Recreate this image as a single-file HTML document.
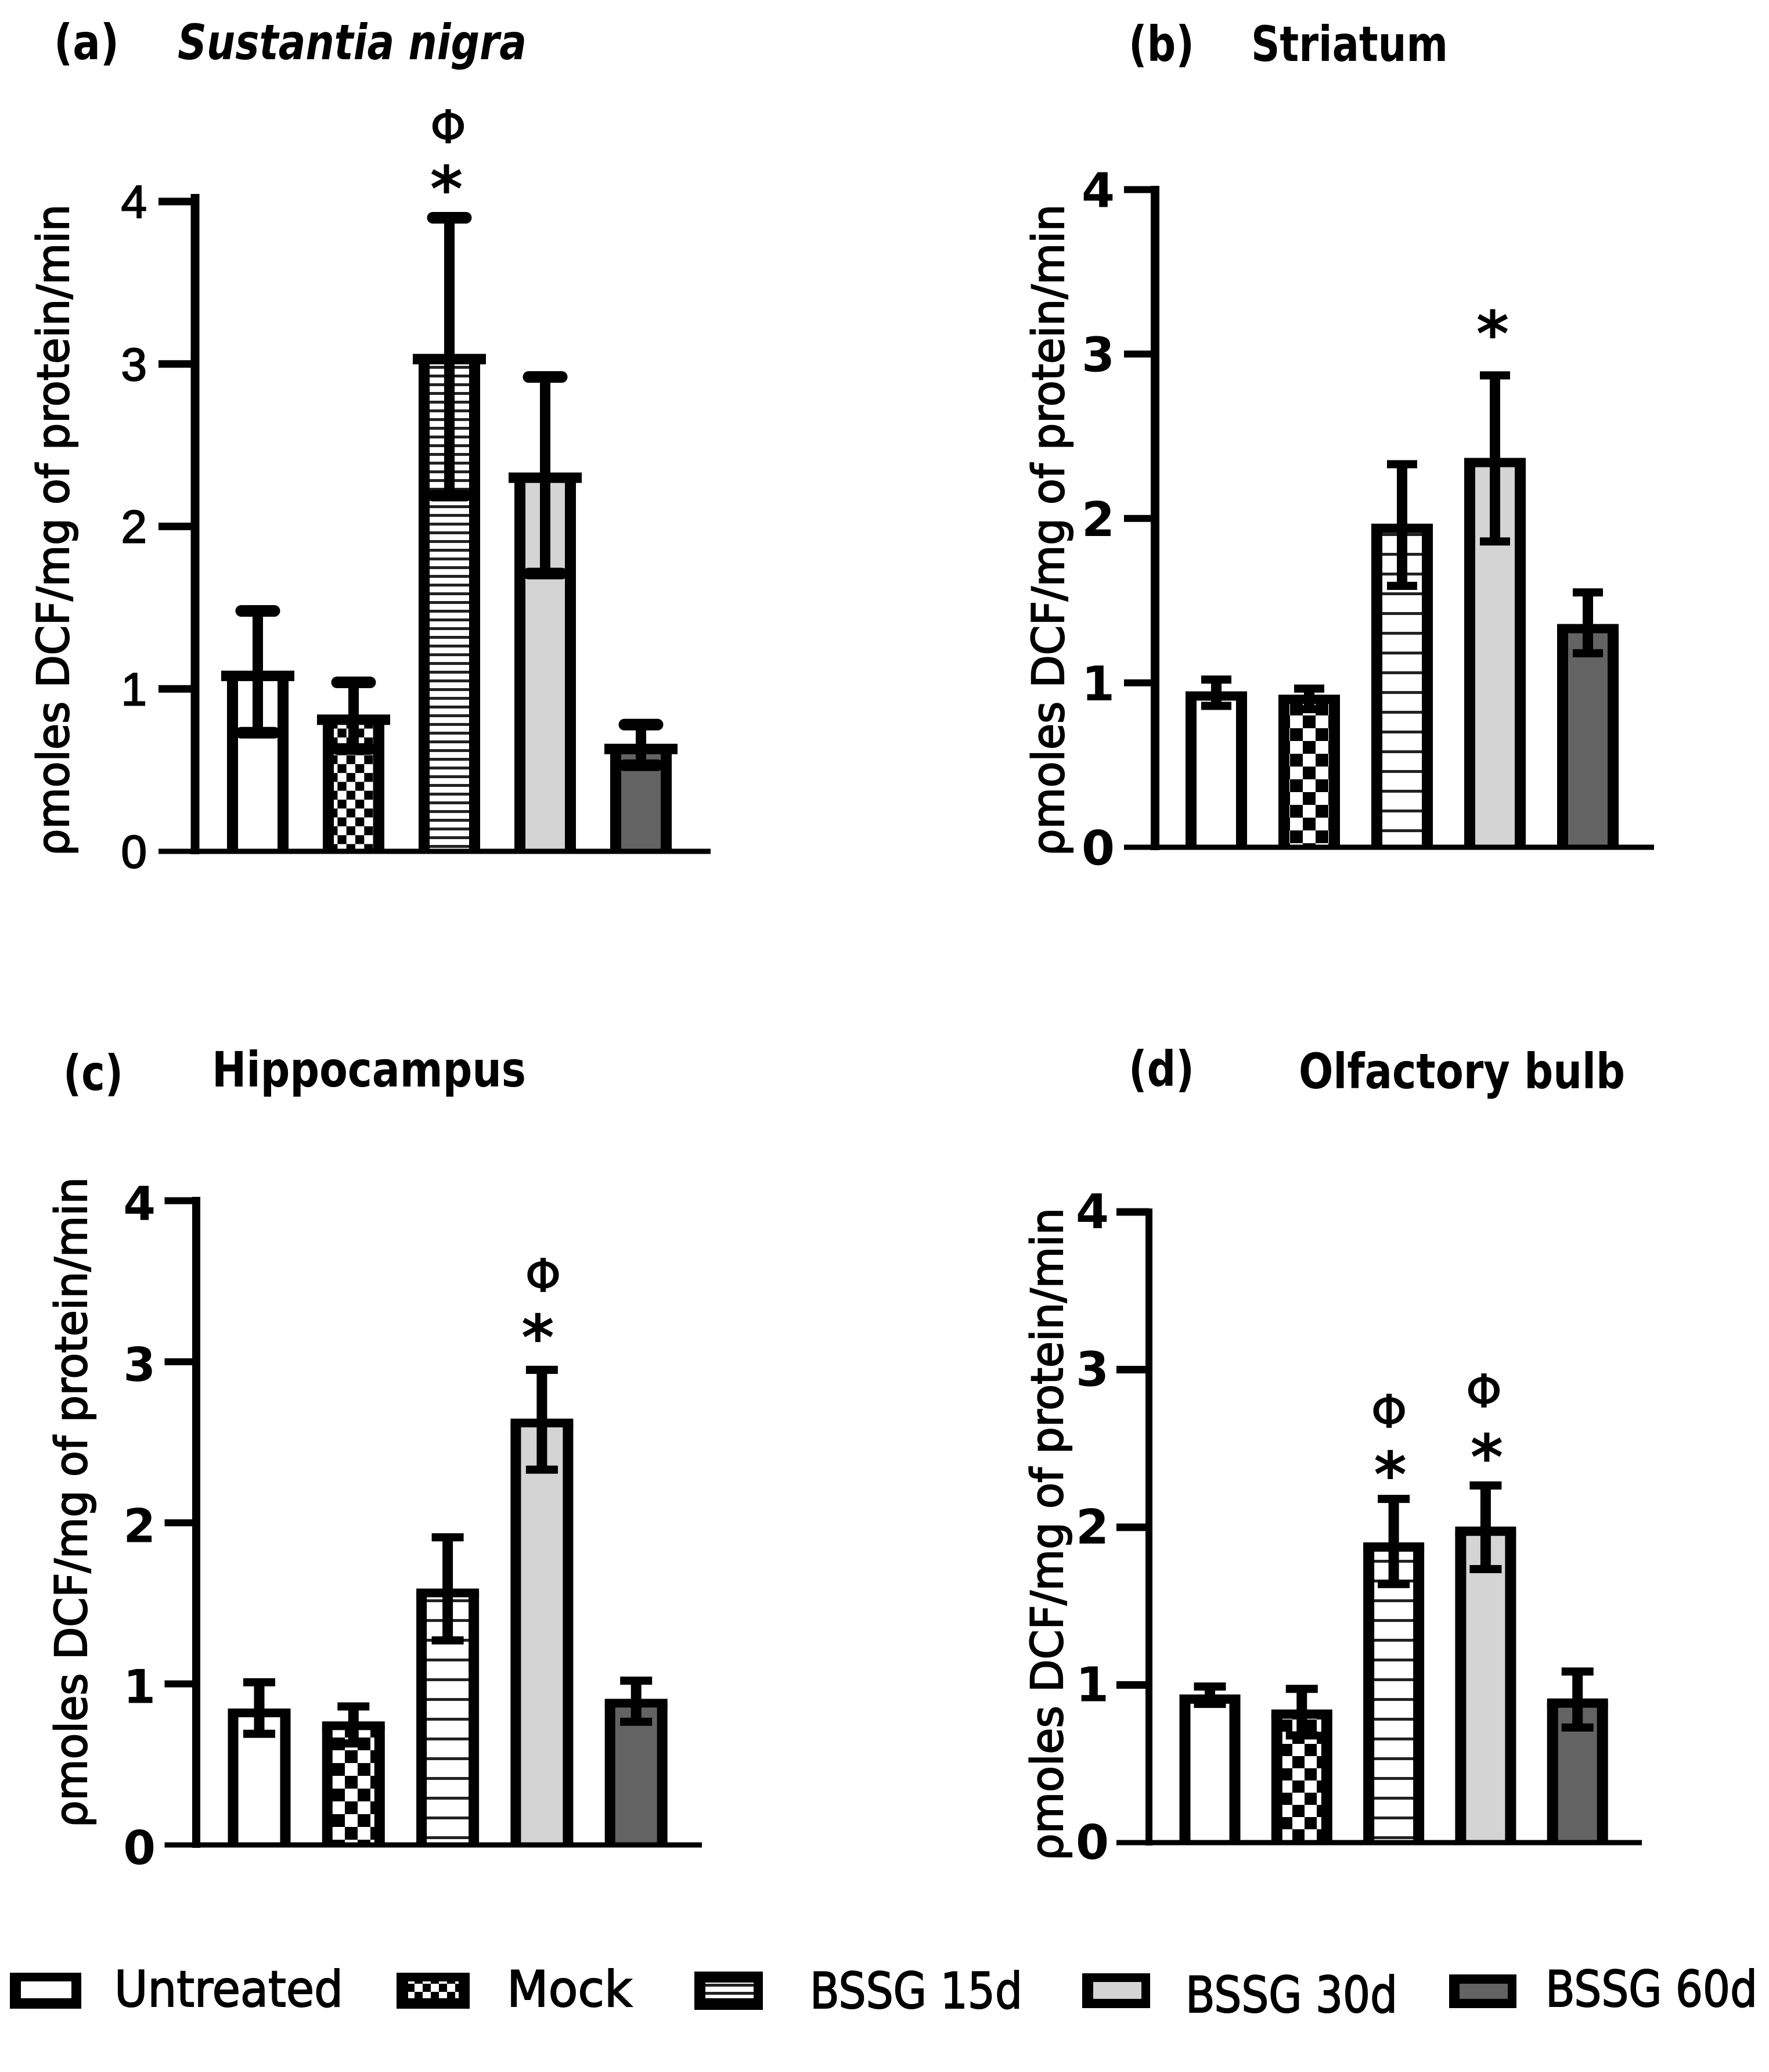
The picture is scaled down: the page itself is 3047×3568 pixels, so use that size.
<!DOCTYPE html>
<html><head><meta charset="utf-8"><title>DCF by brain region</title>
<style>
html,body{margin:0;padding:0;background:#fff}
svg{display:block}
text{font-family:"DejaVu Sans","Liberation Sans",sans-serif;fill:#000}
.ttl{font-weight:bold;font-size:84px}
.yt{font-size:76px;stroke:#000;stroke-width:2.2px}
.lg{font-size:86px;stroke:#000;stroke-width:2px}
</style></head><body>
<svg id="fig" xmlns="http://www.w3.org/2000/svg" width="3047" height="3568" viewBox="0 0 3047 3568">
<defs id="defs"></defs>
<rect width="3047" height="3568" fill="#fff"/>
<text class="ttl" x="93" y="102" textLength="112" lengthAdjust="spacingAndGlyphs">(a)</text>
<text class="ttl" x="306" y="102" font-style="italic" textLength="601" lengthAdjust="spacingAndGlyphs">Sustantia nigra</text>
<text class="ttl" x="1944" y="105" textLength="113" lengthAdjust="spacingAndGlyphs">(b)</text>
<text class="ttl" x="2155" y="105" textLength="339" lengthAdjust="spacingAndGlyphs">Striatum</text>
<text class="ttl" x="109" y="1877" textLength="103" lengthAdjust="spacingAndGlyphs">(c)</text>
<text class="ttl" x="365" y="1871" textLength="541" lengthAdjust="spacingAndGlyphs">Hippocampus</text>
<text class="ttl" x="1944" y="1870" textLength="113" lengthAdjust="spacingAndGlyphs">(d)</text>
<text class="ttl" x="2237" y="1874" textLength="562" lengthAdjust="spacingAndGlyphs">Olfactory bulb</text>
<g id="panels"></g>
<g id="legend"></g>
</svg>
<script>
// ---- chart data ----
const categories = ["Untreated", "Mock", "BSSG 15d", "BSSG 30d", "BSSG 60d"];
const yTickLabels = [0, 1, 2, 3, 4];
const panelAMeans = [1.08, 0.81, 3.03, 2.30, 0.63];
const panelAUpper = [1.48, 1.04, 3.90, 2.92, 0.78];
const panelALower = [0.73, 0.63, 2.19, 1.71, 0.53];
const panelBMeans = [0.92, 0.90, 1.94, 2.34, 1.33];
const panelBUpper = [1.02, 0.965, 2.33, 2.87, 1.55];
const panelBLower = [0.86, 0.84, 1.59, 1.86, 1.18];
const panelCMeans = [0.82, 0.74, 1.565, 2.62, 0.88];
const panelCUpper = [1.01, 0.86, 1.91, 2.95, 1.02];
const panelCLower = [0.69, 0.63, 1.27, 2.33, 0.765];
const panelDMeans = [0.91, 0.815, 1.875, 1.975, 0.885];
const panelDUpper = [0.99, 0.975, 2.18, 2.265, 1.085];
const panelDLower = [0.88, 0.68, 1.64, 1.735, 0.73];

const NS = "http://www.w3.org/2000/svg";
const GRAY = "#d4d4d4", DARK = "#636363";

function make(parent, tag, attrs, txt) {
  const el = document.createElementNS(NS, tag);
  for (const k in attrs) el.setAttribute(k, attrs[k]);
  if (txt !== undefined) el.textContent = txt;
  parent.appendChild(el);
  return el;
}

const defs = document.getElementById("defs");
function checkerPattern(id, c) {
  const p = make(defs, "pattern", {id: id, patternUnits: "userSpaceOnUse", width: 2 * c, height: 2 * c});
  make(p, "rect", {width: 2 * c, height: 2 * c, fill: "#fff"});
  make(p, "rect", {width: c, height: c, fill: "#000"});
  make(p, "rect", {x: c, y: c, width: c, height: c, fill: "#000"});
}
function hatchPattern(id, period, thick) {
  const p = make(defs, "pattern", {id: id, patternUnits: "userSpaceOnUse", width: 40, height: period});
  make(p, "rect", {width: 40, height: period, fill: "#fff"});
  make(p, "rect", {y: 0, width: 40, height: thick, fill: "#222"});
}
checkerPattern("chkA", 15.3);
checkerPattern("chkB", 22);
checkerPattern("chkC", 22);
checkerPattern("chkD", 21);
checkerPattern("chkL", 14);
hatchPattern("hatA", 15, 5);
hatchPattern("hatB", 34, 5);
hatchPattern("hatC", 34, 5);
hatchPattern("hatD", 34, 5);
hatchPattern("hatL", 14, 5);

const panels = [
 {key: "a", means: panelAMeans, upper: panelAUpper, lower: panelALower,
  axisX: 336, axisW: 15, tickLeft: 273, tickW: 13, axisTop: 334, right: 1224, y0: 1466, y4: 347, first: 444, step: 165,
  barW: 87, sw: 19, topSw: 18, overhang: 10, capW: 77, capH: 20, stem: 18, roundCaps: true, chk: "chkA", hat: "hatA",
  tickFs: 80, tickWeight: "normal", tickStroke: 2, tickFont: "Liberation Sans", tickRight: 253, tickDy: 28,
  titleX: 118, titleBottom: 1474, titleLen: 1122,
  notes: [{bar: 2, sym: "\u03A6", dx: -2, dy: -129}, {bar: 2, sym: "*", dx: -5, dy: -12}]},
 {key: "b", means: panelBMeans, upper: panelBUpper, lower: panelBLower,
  axisX: 1989.5, axisW: 15, tickLeft: 1936, tickW: 12, axisTop: 320, right: 2849, y0: 1459, y4: 326.5, first: 2095, step: 160,
  barW: 87, sw: 19, topSw: 16, overhang: 0, capW: 52, capH: 14, stem: 18, roundCaps: false, chk: "chkB", hat: "hatB",
  tickFs: 82, tickWeight: "bold", tickStroke: 0, tickFont: "DejaVu Sans", tickRight: 1920, tickDy: 30,
  titleX: 1832, titleBottom: 1474, titleLen: 1122,
  notes: [{bar: 3, sym: "*", dx: -4, dy: -34}]},
 {key: "c", means: panelCMeans, upper: panelCUpper, lower: panelCLower,
  axisX: 338, axisW: 14, tickLeft: 283.5, tickW: 12, axisTop: 2061, right: 1209, y0: 3177, y4: 2067.6, first: 446.5, step: 162.3,
  barW: 90, sw: 18, topSw: 15, overhang: 0, capW: 55, capH: 14, stem: 18, roundCaps: false, chk: "chkC", hat: "hatC",
  tickFs: 80, tickWeight: "bold", tickStroke: 0, tickFont: "DejaVu Sans", tickRight: 268, tickDy: 33,
  titleX: 149, titleBottom: 3147, titleLen: 1120,
  notes: [{bar: 3, sym: "\u03A6", dx: 2, dy: -135}, {bar: 3, sym: "*", dx: -7, dy: -18}]},
 {key: "d", means: panelDMeans, upper: panelDUpper, lower: panelDLower,
  axisX: 1979, axisW: 12, tickLeft: 1923, tickW: 13, axisTop: 2081, right: 2828, y0: 3173, y4: 2087, first: 2084, step: 158.3,
  barW: 86, sw: 19, topSw: 16, overhang: 0, capW: 55, capH: 14, stem: 18, roundCaps: false, chk: "chkD", hat: "hatD",
  tickFs: 82, tickWeight: "bold", tickStroke: 0, tickFont: "DejaVu Sans", tickRight: 1910, tickDy: 28,
  titleX: 1830, titleBottom: 3204, titleLen: 1124,
  notes: [{bar: 2, sym: "\u03A6", dx: -8, dy: -123}, {bar: 2, sym: "*", dx: -6, dy: -4},
          {bar: 3, sym: "\u03A6", dx: -3, dy: -135}, {bar: 3, sym: "*", dx: 2, dy: -11}]}
];

function barFill(i, p) {
  if (i === 0) return "#fff";
  if (i === 1) return "url(#" + p.chk + ")";
  if (i === 2) return "url(#" + p.hat + ")";
  if (i === 3) return GRAY;
  return DARK;
}

const root = document.getElementById("panels");
panels.forEach(function (p) {
  const g = make(root, "g", {});
  
  
  const yScale = function (v) { return p.y0 + (p.y4 - p.y0) * v / 4; };
  const xScale = function (i) { return p.first + p.step * i; };

  categories.forEach(function (cat, i) {
    const slug = cat.toLowerCase().replace(/\s+/g, '-');
    const cx = xScale(i), top = yScale(p.means[i]);
    const barG = make(g, "g", {});
    
    
    make(barG, "rect", {x: cx - p.barW / 2, y: top, width: p.barW, height: p.y0 - top, fill: barFill(i, p)});
    make(barG, "line", {x1: cx - p.barW / 2, x2: cx - p.barW / 2, y1: top, y2: p.y0, stroke: "#000", "stroke-width": p.sw});
    make(barG, "line", {x1: cx + p.barW / 2, x2: cx + p.barW / 2, y1: top, y2: p.y0, stroke: "#000", "stroke-width": p.sw});
    const oh = p.sw / 2 + p.overhang;
    make(barG, "line", {x1: cx - p.barW / 2 - oh, x2: cx + p.barW / 2 + oh, y1: top, y2: top, stroke: "#000", "stroke-width": p.topSw});

    const eb = make(g, "g", {stroke: "#000"});
    
    
    const hi = yScale(p.upper[i]), lo = yScale(p.lower[i]);
    make(eb, "line", {x1: cx, x2: cx, y1: hi, y2: lo, "stroke-width": p.stem});
    const inset = p.roundCaps ? p.capH / 2 : 0;
    [hi, lo].forEach(function (yy) {
      make(eb, "line", {x1: cx - p.capW / 2 + inset, x2: cx + p.capW / 2 - inset, y1: yy, y2: yy,
        "stroke-width": p.capH, "stroke-linecap": p.roundCaps ? "round" : "butt"});
    });
  });

  const ax = make(g, "g", {stroke: "#000"});
  
  
  make(ax, "line", {x1: p.axisX, x2: p.axisX, y1: p.axisTop, y2: p.y0 + 5, "stroke-width": p.axisW});
  make(ax, "line", {x1: p.tickLeft, x2: p.right, y1: p.y0, y2: p.y0, "stroke-width": 9});
  yTickLabels.forEach(function (t) {
    const ty = yScale(t);
    if (t !== 0) make(ax, "line", {x1: p.tickLeft, x2: p.axisX, y1: ty, y2: ty, "stroke-width": p.tickW});
    const lab = make(g, "text", {x: p.tickRight, y: ty + p.tickDy, "text-anchor": "end", "font-weight": p.tickWeight, "font-size": p.tickFs,
      stroke: "#000", "stroke-width": p.tickStroke, style: 'font-family:"' + p.tickFont + '",sans-serif'}, String(t));
    
    
  });

  const title = make(g, "text", {class: "yt", textLength: p.titleLen, lengthAdjust: "spacingAndGlyphs",
    transform: "translate(" + p.titleX + "," + p.titleBottom + ") rotate(-90)"}, "\u03C1moles DCF/mg of protein/min");
  
  

  p.notes.forEach(function (n) {
    const isStar = n.sym === "*";
    const t = make(g, "text", {x: xScale(n.bar) + n.dx, y: yScale(p.upper[n.bar]) + n.dy, "text-anchor": "middle",
      "font-size": isStar ? 108 : 78, "font-weight": isStar ? "bold" : "normal",
      stroke: "#000", "stroke-width": isStar ? 0 : 1.5}, n.sym);
    
    
  });
});

// ---- legend ----
const legendRoot = document.getElementById("legend");
const legendBoxes = [
 {x: 17, y: 3397, w: 123, h: 62, ix: 36, iy: 3412, iw: 87, ih: 29, fill: "#fff"},
 {x: 683, y: 3397, w: 126, h: 62, ix: 703, iy: 3412, iw: 87, ih: 29, fill: "url(#chkL)"},
 {x: 1196, y: 3395, w: 118, h: 66, ix: 1215, iy: 3414, iw: 83, ih: 27, fill: "url(#hatL)"},
 {x: 1864, y: 3398, w: 117, h: 60, ix: 1883, iy: 3413, iw: 83, ih: 29, fill: GRAY},
 {x: 2496, y: 3400, w: 116, h: 58, ix: 2514, iy: 3416, iw: 83, ih: 26, fill: DARK}
];
const legendTexts = [
 {x: 197, y: 3455, len: 394},
 {x: 873, y: 3455, len: 216},
 {x: 1395, y: 3458, len: 366},
 {x: 2042, y: 3465, len: 365},
 {x: 2662, y: 3455, len: 365}
];
categories.forEach(function (cat, i) {
  const slug = cat.toLowerCase().replace(/\s+/g, '-');
  const b = legendBoxes[i], t = legendTexts[i];
  const s = make(legendRoot, "g", {});
  
  
  make(s, "rect", {x: b.x, y: b.y, width: b.w, height: b.h, fill: "#000"});
  make(s, "rect", {x: b.ix, y: b.iy, width: b.iw, height: b.ih, fill: b.fill});
  const l = make(legendRoot, "text", {class: "lg", x: t.x, y: t.y, textLength: t.len, lengthAdjust: "spacingAndGlyphs"}, cat);
  
  
});
</script>
</body></html>
